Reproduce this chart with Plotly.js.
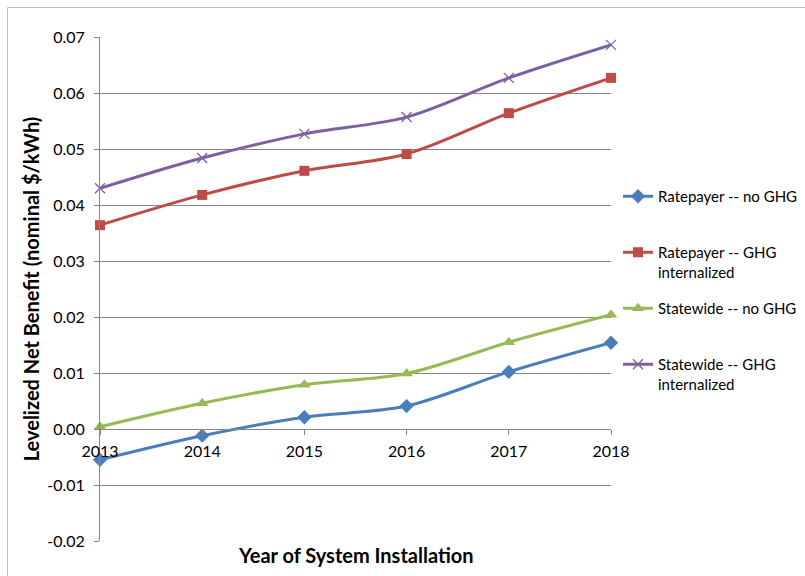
<!DOCTYPE html>
<html>
<head>
<meta charset="utf-8">
<script src="https://cdn.plot.ly/plotly-3.0.1.min.js"></script>
<style>
  html, body { margin: 0; padding: 0; background: #fff; }
  #chart { width: 805px; height: 576px; }
</style>
</head>
<body>
<div id="chart"></div>
<script>
// Installation years (x categories)
const years = [2013, 2014, 2015, 2016, 2017, 2018];

// Levelized net benefit, nominal $/kWh
const ratepayerNoGHG = [-0.0055, -0.0012, 0.0021, 0.0041, 0.0102, 0.0154];
const ratepayerGHG   = [0.0364, 0.0418, 0.0461, 0.0491, 0.0564, 0.0627];
const statewideNoGHG = [0.0004, 0.0046, 0.0079, 0.0099, 0.0155, 0.0204];
const statewideGHG   = [0.0430, 0.0484, 0.0527, 0.0557, 0.0627, 0.0686];

const seriesNames = [
  'Ratepayer -- no GHG',
  'Ratepayer -- GHG<br>internalized',
  'Statewide -- no GHG',
  'Statewide -- GHG<br>internalized'
];
const yTickVals = [-0.02, -0.01, 0, 0.01, 0.02, 0.03, 0.04, 0.05, 0.06, 0.07];
const yTickText = ['-0.02', '-0.01', '0.00', '0.01', '0.02', '0.03', '0.04', '0.05', '0.06', '0.07'];

const FONT = 'Lato, "Open Sans", sans-serif';
const W = 805, H = 576;
const M = { l: 100, r: 194, t: 37, b: 35, autoexpand: false };
const PW = W - M.l - M.r, PH = H - M.t - M.b;
const px = x => (x - M.l) / PW;          // pixel -> paper x
const py = y => 1 - (y - M.t) / PH;      // pixel -> paper y

function series(y, name, color, symbol, size, legendId, extraMarker) {
  return {
    x: years, y: y, name: name, type: 'scatter', mode: 'lines+markers',
    line: { color: color, width: 3, shape: 'spline', smoothing: 0.9 },
    marker: Object.assign({ color: color, symbol: symbol, size: size }, extraMarker || {}),
    legend: legendId, cliponaxis: false
  };
}

const traces = [
  series(ratepayerNoGHG, seriesNames[0], '#4A7EBB', 'diamond', 11, 'legend'),
  series(ratepayerGHG, seriesNames[1], '#BE4B48', 'square', 10, 'legend2'),
  series(statewideNoGHG, seriesNames[2], '#98B954', 'triangle-up', 11, 'legend3'),
  series(statewideGHG, seriesNames[3], '#7D60A0', 'x-thin', 10, 'legend4',
         { line: { color: '#7D60A0', width: 1.3 } })
];

function legendAt(yPix) {
  return {
    x: px(618), y: py(yPix), xanchor: 'left', yanchor: 'top',
    bgcolor: 'rgba(0,0,0,0)', borderwidth: 0, valign: 'top',
    font: { family: FONT, size: 15, color: '#000' }
  };
}

const layout = {
  width: W, height: H,
  margin: M,
  paper_bgcolor: '#fff', plot_bgcolor: '#fff',
  font: { family: FONT, size: 15, color: '#000' },
  xaxis: {
    range: [2013, 2018], tickvals: years, ticktext: years.map(String),
    anchor: 'free', position: 2 / 9,
    showgrid: false, zeroline: false,
    showline: true, linecolor: '#868686', linewidth: 1,
    ticks: 'outside', ticklen: 5, tickcolor: '#868686',
    ticklabelstandoff: 3,
    tickfont: { family: FONT, size: 16, color: '#000' },
    fixedrange: true
  },
  yaxis: {
    range: [-0.02, 0.07], domain: [0, 1],
    tickvals: yTickVals, ticktext: yTickText,
    showgrid: true, gridcolor: '#868686', gridwidth: 1,
    zeroline: false,
    showline: true, linecolor: '#868686', linewidth: 1,
    ticks: 'outside', ticklen: 5, tickcolor: '#868686',
    ticklabelstandoff: 6,
    tickfont: { family: FONT, size: 16, color: '#000' },
    title: { text: 'Levelized Net Benefit (nominal $/kWh)', standoff: 2,
             font: { family: FONT, size: 20, color: '#000', weight: 'bold' } },
    fixedrange: true
  },
  showlegend: true,
  legend: legendAt(180),
  legend2: legendAt(236),
  legend3: legendAt(292),
  legend4: legendAt(348),
  annotations: [{
    text: '<b>Year of System Installation</b>', xref: 'paper', yref: 'paper',
    x: 0.5, y: py(555), xanchor: 'center', yanchor: 'middle', showarrow: false,
    font: { family: FONT, size: 20, color: '#000' }
  }],
  shapes: [
    { type: 'line', xref: 'paper', yref: 'paper', x0: px(7.5), x1: px(7.5), y0: py(7.5), y1: py(600),
      line: { color: '#BFBFBF', width: 1 } },
    { type: 'line', xref: 'paper', yref: 'paper', x0: px(7.5), x1: px(830), y0: py(7.5), y1: py(7.5),
      line: { color: '#BFBFBF', width: 1 } }
  ]
};

Plotly.newPlot('chart', traces, layout, { displayModeBar: false, staticPlot: true });
</script>
</body>
</html>
